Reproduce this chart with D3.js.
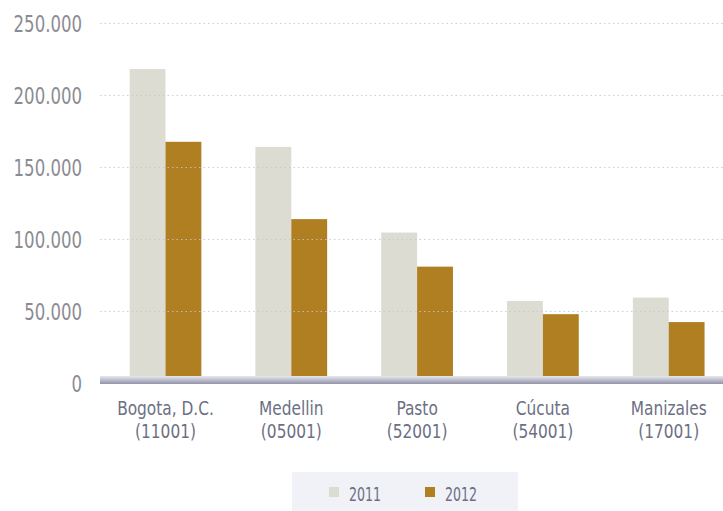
<!DOCTYPE html>
<html><head><meta charset="utf-8">
<script src="https://cdn.jsdelivr.net/npm/d3@7"></script>
<style>
html,body{margin:0;padding:0;background:#fff;}
svg{display:block;}
text{font-family:"DejaVu Sans Condensed","DejaVu Sans",sans-serif;font-stretch:condensed;}
</style></head>
<body>
<script>
const categories = ["Bogota, D.C.|(11001)", "Medellin|(05001)", "Pasto|(52001)", "Cúcuta|(54001)", "Manizales|(17001)"];
const series = ["2011", "2012"];
const values2011 = [218000, 164000, 104500, 57000, 59300];
const values2012 = [167500, 113800, 80800, 47800, 42300];
const yTicks = [0, 50000, 100000, 150000, 200000, 250000];
const colors = ["#dcdcd3", "#b07f22"];

const W = 723, H = 511;
const svg = d3.select("body").append("svg").attr("width", W).attr("height", H);

const y = d3.scaleLinear().domain([0, 250000]).range([383, 23]);
const x0 = d3.scaleBand().domain(categories).range([102.6, 731.6]).paddingInner(0.43).paddingOuter(0.215);
const x1 = d3.scaleBand().domain(series).range([0, x0.bandwidth()]);

const fmt = v => v === 0 ? "0" : d3.format(",")(v).replace(/,/g, ".");

// gradient for axis band
const defs = svg.append("defs");
const g1 = defs.append("linearGradient").attr("id","axg").attr("x1",0).attr("y1",0).attr("x2",0).attr("y2",1);
g1.append("stop").attr("offset","0%").attr("stop-color","#e6e7ef");
g1.append("stop").attr("offset","100%").attr("stop-color","#9294a8");

// bars
const data = categories.map((c, i) => ({c, vals: [values2011[i], values2012[i]]}));
const grp = svg.append("g").selectAll("g").data(data).join("g")
  .attr("transform", d => `translate(${x0(d.c)},0)`);
grp.selectAll("rect").data(d => d.vals.map((v, j) => ({s: series[j], v, j})))
  .join("rect")
  .attr("x", d => x1(d.s))
  .attr("width", x1.bandwidth())
  .attr("y", d => y(d.v))
  .attr("height", d => y(0) - y(d.v))
  .attr("fill", d => colors[d.j]);

// gridlines (drawn over bars)
const grid = svg.append("g").attr("transform", "translate(100,0)")
  .call(d3.axisLeft(y).tickValues(yTicks.filter(t => t > 0)).tickSize(-(W - 100)).tickFormat(""));
grid.select(".domain").remove();
grid.selectAll("line").attr("stroke", "#c4c5cf").attr("stroke-width", 1).attr("stroke-dasharray", "1.5,3").attr("opacity", 0.85);

// axis band
svg.append("rect").attr("x", 100).attr("y", y(0) - 7).attr("width", W - 100).attr("height", 8).attr("fill", "url(#axg)");

// y axis labels
const ya = svg.append("g").attr("transform", "translate(82,0)")
  .call(d3.axisLeft(y).tickValues(yTicks).tickSize(0).tickPadding(0).tickFormat(fmt));
ya.select(".domain").remove();
ya.selectAll("text").attr("font-size", 23).attr("fill", "#8b8b91").attr("dy", "0.36em")
  .attr("transform", "scale(0.8,1)");

// x axis labels
const xa = svg.append("g").attr("transform", `translate(0,${y(0) + 14})`)
  .call(d3.axisBottom(x0).tickSize(0).tickPadding(0).tickFormat(""));
xa.select(".domain").remove();
xa.selectAll(".tick").each(function(d) {
  const parts = d.split("|");
  parts.forEach((p, k) => {
    d3.select(this).append("text").attr("text-anchor", "middle")
      .attr("font-size", 19).attr("fill", "#6c7083")
      .attr("transform", `translate(0,${18 + 23 * k}) scale(0.9,1)`)
      .text(p);
  });
});

// legend
const lg = svg.append("g");
lg.append("rect").attr("x", 292).attr("y", 472).attr("width", 226).attr("height", 39).attr("fill", "#f1f2f7");
const lx = [329, 425];
series.forEach((s, i) => {
  lg.append("rect").attr("x", lx[i]).attr("y", 487).attr("width", 10).attr("height", 10).attr("fill", colors[i]);
  lg.append("text").attr("transform", `translate(${lx[i] + 20},494) scale(0.7,1)`).attr("dy", "0.36em")
    .attr("font-size", 20).attr("fill", "#6c7083").text(s);
});
</script>
</body></html>
